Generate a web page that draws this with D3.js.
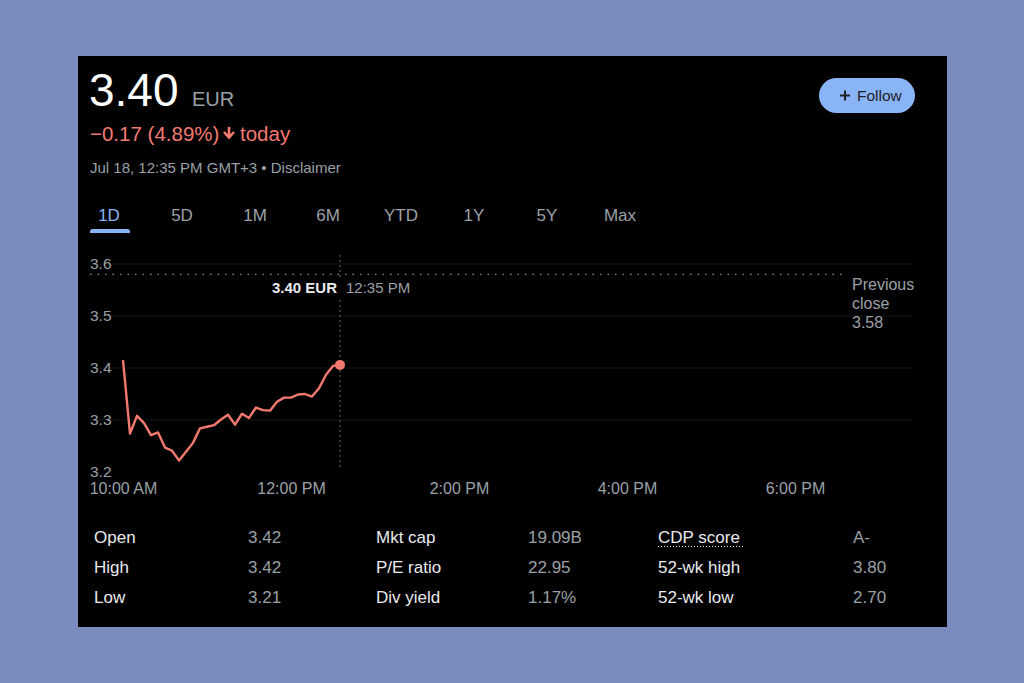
<!DOCTYPE html>
<html><head><meta charset="utf-8">
<script src="https://cdn.jsdelivr.net/npm/d3@7"></script>
<style>
html,body{margin:0;padding:0;background:#7a8bbd;}
svg{display:block;font-family:"Liberation Sans",Arial,sans-serif;}
</style></head>
<body><svg id="c" width="1024" height="683"></svg>
<script>
// ---- data ----
const times = ["10:00","10:05","10:10","10:15","10:20","10:25","10:30","10:35","10:40","10:45","10:50","10:55",
  "11:00","11:05","11:10","11:15","11:20","11:25","11:30","11:35","11:40","11:45","11:50","11:55",
  "12:00","12:05","12:10","12:15","12:20","12:25","12:30","12:35"];
const prices = [3.415,3.274,3.308,3.294,3.271,3.276,3.247,3.241,3.222,3.239,3.256,3.284,
  3.287,3.290,3.301,3.310,3.291,3.312,3.304,3.324,3.319,3.318,3.335,3.343,
  3.343,3.349,3.350,3.345,3.361,3.387,3.404,3.406];
const yTicks = [3.2,3.3,3.4,3.5,3.6];
const xTickLabels = ["10:00 AM","12:00 PM","2:00 PM","4:00 PM","6:00 PM"];
const xTickTimes = ["10:00","12:00","14:00","16:00","18:00"];
const previousClose = 3.58;
const tabs = ["1D","5D","1M","6M","YTD","1Y","5Y","Max"];
const statLabels1 = ["Open","High","Low"];
const statValues1 = ["3.42","3.42","3.21"];
const statLabels2 = ["Mkt cap","P/E ratio","Div yield"];
const statValues2 = ["19.09B","22.95","1.17%"];
const statLabels3 = ["CDP score","52-wk high","52-wk low"];
const statValues3 = ["A-","3.80","2.70"];

const svg = d3.select("#c");
const parse = d3.timeParse("%H:%M");
const RED = "#f47a70", GRAY = "#9aa0a6", BLUE = "#8ab4f8", WHITE = "#e8eaed";
const FF = "Liberation Sans, Arial, sans-serif";

svg.append("rect").attr("x",78).attr("y",56).attr("width",869).attr("height",571).attr("fill","#000");

// header
svg.append("text").attr("x",89).attr("y",106).attr("fill","#fff").attr("font-size",46).text("3.40");
svg.append("text").attr("x",192).attr("y",106).attr("fill",GRAY).attr("font-size",20).text("EUR");
svg.append("text").attr("x",90).attr("y",141).attr("fill",RED).attr("font-size",20.5).text("\u22120.17 (4.89%)");
// down arrow icon
svg.append("path").attr("d","M229,127 L229,136 M224,132 L229,137.5 L234,132").attr("fill","none")
  .attr("stroke",RED).attr("stroke-width",2.6).attr("stroke-linecap","butt");
svg.append("text").attr("x",240).attr("y",141).attr("fill",RED).attr("font-size",20.5).text("today");
svg.append("text").attr("x",90).attr("y",173).attr("fill",GRAY).attr("font-size",15).text("Jul 18, 12:35 PM GMT+3 \u2022 Disclaimer");

// follow button
svg.append("rect").attr("x",819).attr("y",78).attr("width",96).attr("height",35).attr("rx",17.5).attr("fill",BLUE);
svg.append("path").attr("d","M840,95.5 L850,95.5 M845,90.5 L845,100.5").attr("stroke","#202124").attr("stroke-width",2);
svg.append("text").attr("x",857).attr("y",101).attr("fill","#202124").attr("font-size",15.5).text("Follow");

// tabs
const tabX = d3.scalePoint().domain(tabs).range([109,620]);
svg.selectAll(".tab").data(tabs).join("text").attr("class","tab")
  .attr("x",d=>tabX(d)).attr("y",221).attr("text-anchor","middle").attr("font-size",17)
  .attr("fill",(d,i)=>i===0?BLUE:GRAY).text(d=>d);
svg.append("path").attr("d","M90,233 L90,231.5 Q90,229 93,229 L127,229 Q130,229 130,231.5 L130,233 Z").attr("fill",BLUE);

// scales
const x = d3.scaleTime().domain([parse("10:00"),parse("12:00")]).range([123,291]);
const y = d3.scaleLinear().domain([3.2,3.6]).range([472,264]);

// grid
svg.append("g").selectAll("line").data(yTicks.slice(1)).join("line")
  .attr("x1",90).attr("x2",913).attr("y1",d=>y(d)).attr("y2",d=>y(d))
  .attr("stroke","#161616").attr("stroke-width",1);

// y axis labels
const yAxis = d3.axisLeft(y).tickValues(yTicks).tickFormat(d3.format(".1f")).tickSize(0);
const ya = svg.append("g").attr("transform","translate(90,0)").call(yAxis);
ya.select(".domain").remove();
ya.selectAll("text").attr("text-anchor","start").attr("x",0).attr("fill",GRAY).attr("font-size",15.5)
  .attr("font-family",FF);

// x axis labels
const xAxis = d3.axisBottom(x).tickValues(xTickTimes.map(parse)).tickFormat((d,i)=>xTickLabels[i]).tickSize(0);
const xa = svg.append("g").attr("transform","translate(0,480)").call(xAxis);
xa.select(".domain").remove();
xa.selectAll("text").attr("fill",GRAY).attr("font-size",16).attr("dy","0.71em").attr("y",3)
  .attr("font-family",FF);

// previous close dotted line
svg.append("line").attr("x1",90).attr("x2",843).attr("y1",y(previousClose)).attr("y2",y(previousClose))
  .attr("stroke","#8a8a8a").attr("stroke-width",1.2).attr("stroke-dasharray","1.5,6");
svg.selectAll(".pc").data(["Previous","close",previousClose.toFixed(2)]).join("text").attr("class","pc")
  .attr("x",852).attr("y",(d,i)=>290+i*19).attr("fill",GRAY).attr("font-size",16).text(d=>d);

// line
const data = times.map((t,i)=>({t:parse(t),v:prices[i]}));
const last = data[data.length-1];
svg.append("line").attr("x1",x(last.t)).attr("x2",x(last.t)).attr("y1",255).attr("y2",470)
  .attr("stroke","#6a6a6a").attr("stroke-width",1).attr("stroke-dasharray","2,3");
svg.append("path").datum(data).attr("fill","none").attr("stroke",RED).attr("stroke-width",2.4)
  .attr("stroke-linejoin","round")
  .attr("d",d3.line().x(d=>x(d.t)).y(d=>y(d.v)));
svg.append("circle").attr("cx",x(last.t)).attr("cy",y(last.v)).attr("r",5).attr("fill",RED);

// tooltip
svg.append("rect").attr("x",262).attr("y",277).attr("width",156).attr("height",22).attr("fill","#000");
svg.append("text").attr("x",337).attr("y",293).attr("text-anchor","end").attr("fill",WHITE)
  .attr("font-size",15).attr("font-weight","bold").text("3.40 EUR");
svg.append("text").attr("x",346).attr("y",293).attr("fill",GRAY).attr("font-size",15).text("12:35 PM");

// stats table
const rowsY = [543,573,603];
function col(labels, values, lx, vx){
  svg.selectAll(null).data(labels).join("text").attr("x",lx).attr("y",(d,i)=>rowsY[i])
    .attr("fill",WHITE).attr("font-size",17).text(d=>d);
  svg.selectAll(null).data(values).join("text").attr("x",vx).attr("y",(d,i)=>rowsY[i])
    .attr("fill",GRAY).attr("font-size",17).text(d=>d);
}
col(statLabels1,statValues1,94,248);
col(statLabels2,statValues2,376,528);
col(statLabels3,statValues3,658,853);
svg.append("line").attr("x1",658).attr("x2",743).attr("y1",546.5).attr("y2",546.5)
  .attr("stroke",WHITE).attr("stroke-width",1).attr("stroke-dasharray","1,2");
</script></body></html>
